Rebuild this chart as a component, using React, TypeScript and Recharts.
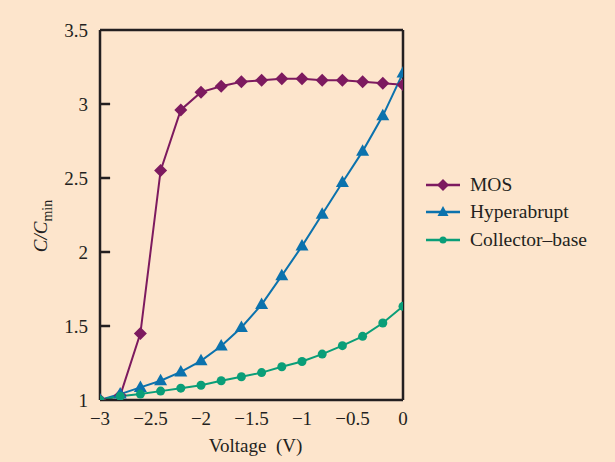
import React from "react";
import {
  LineChart,
  Line,
  XAxis,
  YAxis,
  ReferenceLine,
  Legend,
} from "recharts";

// voltage steps (V)
const voltage = [-3, -2.8, -2.6, -2.4, -2.2, -2, -1.8, -1.6, -1.4, -1.2, -1, -0.8, -0.6, -0.4, -0.2, 0];

// C/Cmin
const mos = [1.0, 1.03, 1.45, 2.55, 2.96, 3.08, 3.12, 3.15, 3.16, 3.17, 3.17, 3.16, 3.16, 3.15, 3.14, 3.13];
const hyperabrupt = [1.0, 1.04, 1.085, 1.13, 1.19, 1.265, 1.365, 1.49, 1.645, 1.84, 2.04, 2.255, 2.47, 2.68, 2.92, 3.21];
const collectorBase = [1.0, 1.025, 1.04, 1.06, 1.08, 1.1, 1.13, 1.157, 1.185, 1.225, 1.26, 1.31, 1.367, 1.43, 1.52, 1.633];

const xTicks = [-3, -2.5, -2, -1.5, -1, -0.5, 0];
const yTicks = [1, 1.5, 2, 2.5, 3, 3.5];
const innerTicks = [1.5, 2, 2.5, 3];

const data = voltage.map((v, i) => ({
  v,
  mos: mos[i],
  hyper: hyperabrupt[i],
  cb: collectorBase[i],
}));

const BG = "#fde5cc";
const AXIS = "#231f20";
const C_MOS = "#7d1a5f";
const C_HYP = "#0b72ad";
const C_CB = "#0a9e78";
const FONT = "'Liberation Serif', 'DejaVu Serif', serif";

const fmt = (n: number) => (n < 0 ? "\u2212" + Math.abs(n) : String(n));

const Diamond = (props: any) => {
  const { cx, cy, index } = props;
  if (cx == null || cy == null) return <g key={index} />;
  const s = 6.5;
  return (
    <path
      key={index}
      d={`M${cx},${cy - s}L${cx + s},${cy}L${cx},${cy + s}L${cx - s},${cy}Z`}
      fill={C_MOS}
    />
  );
};

const Triangle = (props: any) => {
  const { cx, cy, index } = props;
  if (cx == null || cy == null) return <g key={index} />;
  return (
    <path
      key={index}
      d={`M${cx},${cy - 7}L${cx + 6.5},${cy + 4.5}L${cx - 6.5},${cy + 4.5}Z`}
      fill={C_HYP}
    />
  );
};

const Dot = (props: any) => {
  const { cx, cy, index } = props;
  if (cx == null || cy == null) return <g key={index} />;
  return <circle key={index} cx={cx} cy={cy} r={4.5} fill={C_CB} />;
};

const legendItems = [
  { name: "MOS", color: C_MOS, shape: "diamond" },
  { name: "Hyperabrupt", color: C_HYP, shape: "triangle" },
  { name: "Collector\u2013base", color: C_CB, shape: "circle" },
];

const LegendContent = () => (
  <div style={{ fontFamily: FONT, fontSize: 19.5, color: "#231f20" }}>
    {legendItems.map((it) => (
      <div key={it.name} style={{ display: "flex", alignItems: "center", height: 27.5 }}>
        <svg width={34} height={14} style={{ marginRight: 10 }}>
          <line x1={0} y1={7} x2={34} y2={7} stroke={it.color} strokeWidth={2.5} />
          {it.shape === "diamond" && <path d="M17,1L23,7L17,13L11,7Z" fill={it.color} />}
          {it.shape === "triangle" && <path d="M17,1L22.5,11L11.5,11Z" fill={it.color} />}
          {it.shape === "circle" && <circle cx={17} cy={7} r={3.5} fill={it.color} />}
        </svg>
        <span>{it.name}</span>
      </div>
    ))}
  </div>
);

const YLabel = (props: any) => {
  const { viewBox } = props;
  const x = viewBox.x + 7;
  const y = viewBox.y + viewBox.height / 2 + 11;
  return (
    <text
      x={x}
      y={y}
      transform={`rotate(-90, ${x}, ${y})`}
      textAnchor="middle"
      fontFamily={FONT}
      fontSize={19}
      fill={AXIS}
    >
      <tspan fontStyle="italic">C/C</tspan>
      <tspan fontSize={14} dy={5}>min</tspan>
    </text>
  );
};

const XLabel = (props: any) => {
  const { viewBox } = props;
  const x = viewBox.x + viewBox.width / 2 + 4;
  return (
    <text
      x={x}
      y={452}
      textAnchor="middle"
      fontFamily={FONT}
      fontSize={19}
      fill={AXIS}
      style={{ whiteSpace: "pre" }}
    >
      {"Voltage  (V)"}
    </text>
  );
};

export default function App() {
  return (
    <div style={{ position: "absolute", left: 0, top: 0, width: 615, height: 462, background: BG }}>
      <LineChart
        width={615}
        height={462}
        data={data}
        margin={{ top: 30, right: 212, left: 40, bottom: 32 }}
      >
        <XAxis
          dataKey="v"
          type="number"
          domain={[-3, 0]}
          ticks={xTicks}
          tickFormatter={fmt}
          tickLine={false}
          tickSize={6}
          tickMargin={6}
          axisLine={{ stroke: AXIS, strokeWidth: 2.5 }}
          tick={{ fill: AXIS, fontSize: 19, fontFamily: FONT }}
          label={{ content: XLabel }}
          allowDataOverflow
        />
        <YAxis
          type="number"
          domain={[1, 3.5]}
          ticks={yTicks}
          width={60}
          tickLine={false}
          tickSize={6}
          tickMargin={6}
          axisLine={{ stroke: AXIS, strokeWidth: 2.5 }}
          tick={{ fill: AXIS, fontSize: 19, fontFamily: FONT }}
          label={{ content: YLabel }}
          allowDataOverflow
        />
        <ReferenceLine y={3.5} stroke={AXIS} strokeWidth={2.5} />
        <ReferenceLine x={0} stroke={AXIS} strokeWidth={2.5} />
        {innerTicks.map((t) => (
          <ReferenceLine
            key={t}
            segment={[
              { x: -3, y: t },
              { x: -2.9, y: t },
            ]}
            stroke={AXIS}
            strokeWidth={2.5}
          />
        ))}
        <Legend
          content={<LegendContent />}
          layout="vertical"
          align="center"
          verticalAlign="middle"
          wrapperStyle={{ position: "absolute", left: 426, top: 171, width: 189 }}
        />
        {/* MOS drawn first so the other two sit on top of it, as in the figure */}
        <Line
          dataKey="mos"
          type="linear"
          stroke={C_MOS}
          strokeWidth={2}
          dot={Diamond}
          activeDot={false}
          isAnimationActive={false}
        />
        <Line
          dataKey="hyper"
          type="linear"
          stroke={C_HYP}
          strokeWidth={2}
          dot={Triangle}
          activeDot={false}
          isAnimationActive={false}
        />
        <Line
          dataKey="cb"
          type="linear"
          stroke={C_CB}
          strokeWidth={2}
          dot={Dot}
          activeDot={false}
          isAnimationActive={false}
        />
      </LineChart>
    </div>
  );
}
